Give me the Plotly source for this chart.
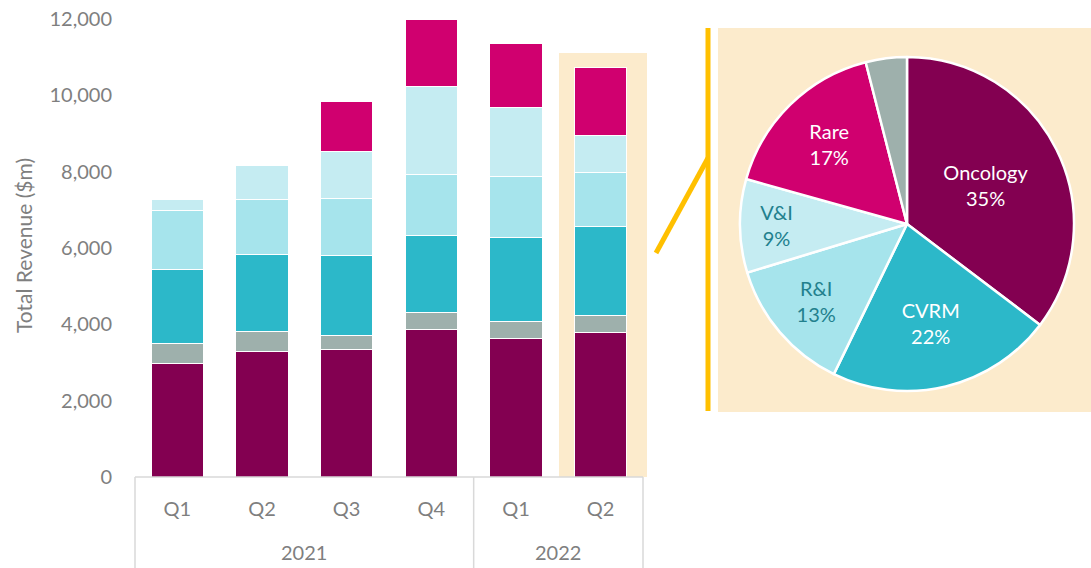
import plotly.graph_objects as go

# ---------------- data ----------------
quarters = ["Q1", "Q2", "Q3", "Q4", "Q1", "Q2"]
years = ["2021", "2022"]
year_spans = [4, 2]

oncology = [2980, 3284, 3347, 3871, 3625, 3793]
other = [524, 535, 349, 427, 438, 427]
cvrm = [1930, 2008, 2104, 2037, 2219, 2351]
ri = [1546, 1433, 1505, 1599, 1589, 1405]
vi = [280, 900, 1222, 2296, 1801, 970]
rare = [0, 0, 1302, 1748, 1695, 1792]

y_ticks = [0, 2000, 4000, 6000, 8000, 10000, 12000]

pie_labels = ["Oncology", "CVRM", "R&I", "V&I", "Rare", "Other"]

# ---------------- styles ----------------
C_ONC = "#830051"
C_OTH = "#9EB0AC"
C_CVRM = "#2CB8C9"
C_RI = "#A6E4EC"
C_VI = "#C5ECF2"
C_RARE = "#D0006F"
BEIGE = "#FCEBCC"
YELLOW = "#FFC000"
GREY_TXT = "#7F7F7F"
DIV = "#D9D9D9"
FONT = "Lato"

W, H = 1091, 568
ML, MR, MT, MB = 135, 0, 19, 91
PW, PH = W - ML - MR, H - MT - MB
X_END = 643  # px right end of bar axis


def px(x):
    return (x - ML) / PW


def py(y):
    return (H - MB - y) / PH


n = len(quarters)
xs = list(range(n))

fig = go.Figure()
series = [
    ("Oncology", oncology, C_ONC),
    ("Other", other, C_OTH),
    ("CVRM", cvrm, C_CVRM),
    ("R&I", ri, C_RI),
    ("V&I", vi, C_VI),
    ("Rare", rare, C_RARE),
]
for name, vals, col in series:
    fig.add_trace(go.Bar(
        x=xs, y=vals, name=name, width=0.615,
        marker=dict(color=col, line=dict(color="white", width=1)),
        hoverinfo="skip", xaxis="x", yaxis="y",
    ))

# pie of last quarter
last = n - 1
pie_vals = [oncology[last], cvrm[last], ri[last], vi[last], rare[last], other[last]]
pie_cols = [C_ONC, C_CVRM, C_RI, C_VI, C_RARE, C_OTH]
pie_txtcol = ["white", "white", "#22808D", "#22808D", "white", "white"]
pie_tmpl = ["%{label}<br>%{percent:.0%}"] * 5 + [""]

fig.add_trace(go.Pie(
    values=pie_vals, labels=pie_labels, sort=False, direction="clockwise",
    rotation=0, marker=dict(colors=pie_cols, line=dict(color="white", width=2.5)),
    texttemplate=pie_tmpl, textposition="inside", insidetextorientation="horizontal",
    textfont=dict(family=FONT, size=20, color=pie_txtcol),
    domain=dict(x=[px(740), px(1074)], y=[py(391), py(57)]),
    showlegend=False, hoverinfo="skip",
))

shapes = []
# beige highlight behind last bar
shapes.append(dict(type="rect", xref="paper", yref="paper", layer="below",
                   x0=px(559), x1=px(647), y0=0, y1=py(53),
                   fillcolor=BEIGE, line=dict(width=0)))
# beige panel behind pie
shapes.append(dict(type="rect", xref="paper", yref="paper", layer="below",
                   x0=px(718), x1=px(W + 5), y0=py(412), y1=py(28),
                   fillcolor=BEIGE, line=dict(width=0)))
# yellow connector lines
shapes.append(dict(type="line", xref="paper", yref="paper",
                   x0=px(708), x1=px(708), y0=py(411), y1=py(28),
                   line=dict(color=YELLOW, width=5)))
shapes.append(dict(type="line", xref="paper", yref="paper",
                   x0=px(656), x1=px(708), y0=py(253), y1=py(158),
                   line=dict(color=YELLOW, width=5)))
# axis baseline
shapes.append(dict(type="line", xref="paper", yref="paper",
                   x0=0, x1=px(X_END), y0=0, y1=0,
                   line=dict(color=DIV, width=1.5)))
# group dividers
cat_w = (X_END - ML) / n
bounds = [0]
for s in year_spans:
    bounds.append(bounds[-1] + s)
for b in bounds:
    xb = ML + b * cat_w
    shapes.append(dict(type="line", xref="paper", yref="paper",
                       x0=px(xb), x1=px(xb), y0=0, y1=py(H + 2),
                       line=dict(color=DIV, width=1.5)))

annotations = []
for i, yr in enumerate(years):
    xc = ML + (bounds[i] + bounds[i + 1]) / 2 * cat_w
    annotations.append(dict(text=yr, xref="paper", yref="paper", x=px(xc), y=py(552),
                            showarrow=False, xanchor="center", yanchor="middle",
                            font=dict(family=FONT, size=20, color=GREY_TXT)))
annotations.append(dict(text="Total Revenue ($m)", xref="paper", yref="paper",
                        x=px(23), y=py(246), textangle=-90, showarrow=False,
                        xanchor="center", yanchor="middle",
                        font=dict(family=FONT, size=21, color=GREY_TXT)))

fig.update_layout(
    width=W, height=H, barmode="stack", showlegend=False,
    margin=dict(l=ML, r=MR, t=MT, b=MB, autoexpand=False),
    paper_bgcolor="white", plot_bgcolor="rgba(0,0,0,0)",
    xaxis=dict(domain=[0, px(X_END)], range=[-0.5, n - 0.5], tickvals=xs,
               ticktext=quarters, showgrid=False, zeroline=False, showline=False,
               ticks="", ticklabelstandoff=18,
               tickfont=dict(family=FONT, size=20, color=GREY_TXT)),
    yaxis=dict(range=[0, 12000], tickvals=y_ticks, tickformat=",", showgrid=False,
               zeroline=False, showline=False, ticks="", ticklabelstandoff=22,
               tickfont=dict(family=FONT, size=20, color=GREY_TXT)),
    shapes=shapes, annotations=annotations,
)

fig.write_html(
    "out.html",
    config={"displayModeBar": False},
    post_script="document.body.style.margin='0';document.body.style.overflow='hidden';",
)
